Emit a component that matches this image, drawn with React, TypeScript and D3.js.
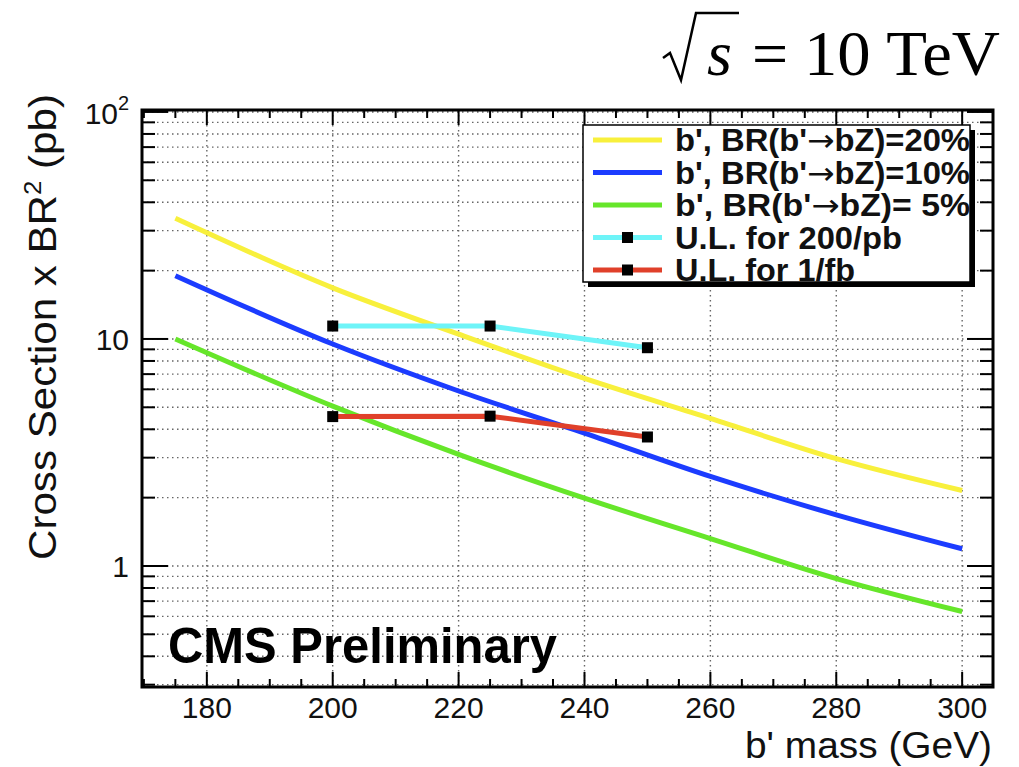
import * as d3 from 'd3';

const width = 1019;
const height = 767;

// plot frame in page pixels
const left = 142;
const right = 993;
const top = 110;
const bottom = 687;

// theory curves, sigma x BR^2 in pb
const massGrid = [175, 200, 220, 240, 260, 280, 300];
const br20 = [34, 16.8, 10.5, 6.7, 4.47, 2.97, 2.15];
const br10 = [19.0, 9.5, 5.9, 3.85, 2.48, 1.68, 1.19];
const br5 = [10.0, 5.06, 3.1, 1.99, 1.32, 0.88, 0.63];

// upper limits
const ulMass = [200, 225, 250];
const ul200pb = [11.4, 11.4, 9.15];
const ul1fb = [4.55, 4.57, 3.7];

const xMajor = [180, 200, 220, 240, 260, 280, 300];
const yLabels = ['1', '10'];

const legendPre = ["b', BR(b'", "b', BR(b'", "b', BR(b'", 'U.L. for 200/pb', 'U.L. for 1/fb'];
const legendPost = ['bZ)=20%', 'bZ)=10%', 'bZ)= 5%', '', ''];
const legendColors = ['#f8f03c', '#1c3cff', '#66e62a', '#6ef4f8', '#e0402a'];
const legendMarker = [false, false, false, true, true];

const x = d3.scaleLinear().domain([169.7, 304.9]).range([left, right]);
const y = d3.scaleLog().domain([0.293, 102]).range([bottom, top]);

const sans = 'Liberation Sans, Arial, Helvetica, sans-serif';

const App = () => {
  const theory = [br20, br10, br5];
  const limits = [ul200pb, ul1fb];
  const line = d3
    .line<[number, number]>()
    .x(d => x(d[0]))
    .y(d => y(d[1]))
    .curve(d3.curveMonotoneX);
  const straight = d3
    .line<[number, number]>()
    .x(d => x(d[0]))
    .y(d => y(d[1]));

  const yTicks = y.ticks();
  const isMajor = (v: number) => Math.abs(Math.log10(v) - Math.round(Math.log10(v))) < 1e-6;
  const xMinor = d3.range(170, 305, 5).filter(v => !xMajor.includes(v));

  const legX = 583;
  const legY = 125;
  const legW = 387;
  const legH = 157;
  const rowH = 32.5;

  return (
    <svg
      width={width}
      height={height}
      style={{ position: 'absolute', left: 0, top: 0, background: '#fff' }}
    >
      {/* grid */}
      <g stroke="#666" strokeWidth={1.4} strokeDasharray="1.5,3.5">
        {yTicks.map((t, i) => (
          <line key={'gy' + i} x1={left} x2={right} y1={y(t)} y2={y(t)} />
        ))}
        {xMajor.map(t => (
          <line key={'gx' + t} x1={x(t)} x2={x(t)} y1={top} y2={bottom} />
        ))}
      </g>

      {/* theory curves */}
      {theory.map((s, i) => (
        <path
          key={'th' + i}
          d={line(massGrid.map((m, j) => [m, s[j]]) as [number, number][]) || ''}
          fill="none"
          stroke={legendColors[i]}
          strokeWidth={5}
        />
      ))}

      {/* limits */}
      {limits.map((s, i) => (
        <g key={'ul' + i}>
          <path
            d={straight(ulMass.map((m, j) => [m, s[j]]) as [number, number][]) || ''}
            fill="none"
            stroke={legendColors[3 + i]}
            strokeWidth={5}
          />
          {ulMass.map((m, j) => (
            <rect key={j} x={x(m) - 5.5} y={y(s[j]) - 5.5} width={11} height={11} fill="#000" />
          ))}
        </g>
      ))}

      {/* ticks */}
      <g stroke="#000" strokeWidth={2}>
        {xMajor.map(t => (
          <g key={'xt' + t}>
            <line x1={x(t)} x2={x(t)} y1={bottom} y2={bottom - 15} />
            <line x1={x(t)} x2={x(t)} y1={top} y2={top + 15} />
          </g>
        ))}
        {xMinor.map(t => (
          <g key={'xm' + t}>
            <line x1={x(t)} x2={x(t)} y1={bottom} y2={bottom - 8} />
            <line x1={x(t)} x2={x(t)} y1={top} y2={top + 8} />
          </g>
        ))}
        {yTicks.map((t, i) => {
          const len = isMajor(t) ? 26 : 13;
          return (
            <g key={'yt' + i}>
              <line x1={left} x2={left + len} y1={y(t)} y2={y(t)} />
              <line x1={right} x2={right - len} y1={y(t)} y2={y(t)} />
            </g>
          );
        })}
      </g>

      {/* frame */}
      <rect
        x={left}
        y={top}
        width={right - left}
        height={bottom - top}
        fill="none"
        stroke="#000"
        strokeWidth={3}
      />

      {/* tick labels */}
      <g fontFamily={sans} fontSize={30} fill="#111">
        {xMajor.map(t => (
          <text key={'xl' + t} x={x(t)} y={718} textAnchor="middle">
            {t}
          </text>
        ))}
        <text x={129} y={y(1) + 11} textAnchor="end">
          {yLabels[0]}
        </text>
        <text x={129} y={y(10) + 11} textAnchor="end">
          {yLabels[1]}
        </text>
        <text x={118} y={y(100) + 12} textAnchor="end">
          10
        </text>
        <text x={118} y={y(100) - 2} fontSize={20}>
          2
        </text>
      </g>

      {/* axis titles */}
      <text
        x={992}
        y={758}
        textAnchor="end"
        fontFamily={sans}
        fontSize={36}
        fill="#111"
        textLength={247}
        lengthAdjust="spacingAndGlyphs"
      >
        b' mass (GeV)
      </text>
      <text
        transform="translate(56,560) rotate(-90)"
        fontFamily={sans}
        fontSize={39}
        fill="#111"
        textLength={466}
        lengthAdjust="spacingAndGlyphs"
      >
        Cross Section x BR
        <tspan fontSize={24} dy={-15}>
          2
        </tspan>
        <tspan dy={15}> (pb)</tspan>
      </text>

      {/* energy label */}
      <g fontFamily="Liberation Serif, Times New Roman, serif" fontSize={64} fill="#000">
        <path
          d="M663,58 L670,53 L681,80 L696,13 L739,13"
          fill="none"
          stroke="#000"
          strokeWidth={2.5}
        />
        <text x={707} y={75} fontStyle="italic">
          s
        </text>
        <text x={752} y={75}>
          =
        </text>
        <text x={804} y={75} textLength={196} lengthAdjust="spacingAndGlyphs">
          10 TeV
        </text>
      </g>

      {/* CMS label */}
      <text
        x={168}
        y={663}
        fontFamily={sans}
        fontWeight="bold"
        fontSize={50}
        textLength={389}
        lengthAdjust="spacingAndGlyphs"
        fill="#000"
      >
        CMS Preliminary
      </text>

      {/* legend */}
      <rect x={legX + 5} y={legY + 5} width={legW} height={legH} fill="#000" />
      <rect x={legX} y={legY} width={legW} height={legH} fill="#fff" stroke="#000" strokeWidth={1.5} />
      {legendPre.map((lab, i) => {
        const ry = legY + 15 + rowH * i;
        return (
          <g key={'lg' + i}>
            <line x1={593} x2={662} y1={ry} y2={ry} stroke={legendColors[i]} strokeWidth={5} />
            {legendMarker[i] && (
              <rect x={622} y={ry - 5.5} width={11} height={11} fill="#000" />
            )}
            <text
              x={675}
              y={ry + 11}
              fontFamily={sans}
              fontWeight="bold"
              fontSize={31}
              fill="#111"
              textLength={i < 3 ? 295 : i === 3 ? 227 : 180}
              lengthAdjust="spacingAndGlyphs"
            >
              {lab}
              {i < 3 && (
                <tspan fontFamily="DejaVu Sans" fontWeight="normal">
                  {'\u2192'}
                </tspan>
              )}
              {legendPost[i]}
            </text>
          </g>
        );
      })}
    </svg>
  );
};

export default App;
